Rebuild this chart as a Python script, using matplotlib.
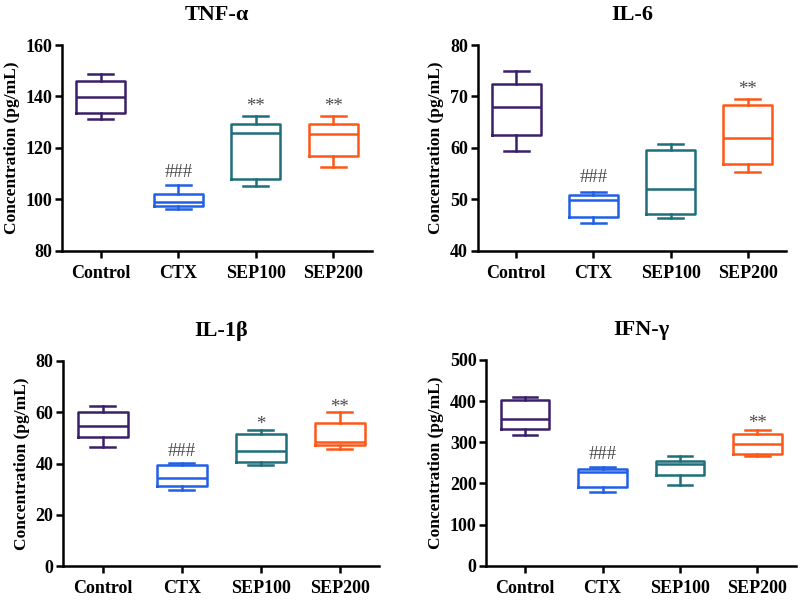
import matplotlib
matplotlib.use("Agg")
import matplotlib.pyplot as plt

plt.rcParams['font.family'] = ['Liberation Serif', 'DejaVu Serif']
plt.rcParams['font.weight'] = 'bold'

groups = ['Control', 'CTX', 'SEP100', 'SEP200']
colors = ['#3a2068', '#2160e6', '#1f6f7a', '#ff5718']

# five-number summaries per group: whislo, q1, med, q3, whishi
tnf_stats = [[131.4, 133.6, 139.9, 145.9, 148.7],
             [96.4, 97.3, 98.8, 102.0, 105.5],
             [105.1, 108.0, 125.8, 129.2, 132.4],
             [112.5, 117.0, 125.4, 129.2, 132.3]]
il6_stats = [[59.4, 62.6, 67.9, 72.5, 74.9],
             [45.5, 46.5, 49.8, 50.9, 51.4],
             [46.3, 47.2, 52.1, 59.6, 60.7],
             [55.3, 56.9, 61.9, 68.3, 69.5]]
il1b_stats = [[46.6, 50.3, 54.5, 60.0, 62.3],
              [29.6, 31.3, 34.4, 39.3, 40.3],
              [39.4, 40.7, 44.9, 51.6, 53.1],
              [45.5, 47.1, 48.4, 55.6, 59.9]]
ifn_stats = [[318.5, 332.3, 357.4, 402.8, 410.0],
             [179.1, 190.4, 228.5, 235.0, 240.7],
             [195.3, 220.4, 246.4, 255.3, 266.6],
             [265.8, 270.7, 295.8, 320.0, 329.0]]

# significance marks (text, y value)
tnf_marks = [None, ('###', 110.5), ('**', 136), ('**', 136)]
il6_marks = [None, ('###', 54.3), None, ('**', 71.3)]
il1b_marks = [None, ('###', 44.6), ('*', 55.3), ('**', 61.8)]
ifn_marks = [None, ('###', 270), None, ('**', 345)]

panels = [
    ('TNF-\u03b1', tnf_stats, tnf_marks, (80, 160), [80, 100, 120, 140, 160], [0.0775, 0.582, 0.3875, 0.343]),
    ('IL-6', il6_stats, il6_marks, (40, 80), [40, 50, 60, 70, 80], [0.597, 0.582, 0.386, 0.343]),
    ('IL-1\u03b2', il1b_stats, il1b_marks, (0, 80), [0, 20, 40, 60, 80], [0.079, 0.056, 0.395, 0.343]),
    ('IFN-\u03b3', ifn_stats, ifn_marks, (0, 500), [0, 100, 200, 300, 400, 500], [0.608, 0.057, 0.387, 0.343]),
]

fig = plt.figure(figsize=(8, 6), dpi=100)

for title, stats, marks, ylim, yticks, pos in panels:
    ax = fig.add_axes(pos)
    for i, s in enumerate(stats):
        st = dict(whislo=s[0], q1=s[1], med=s[2], q3=s[3], whishi=s[4], fliers=[])
        c = colors[i]
        ax.bxp([st], positions=[i], widths=0.63, showfliers=False,
               boxprops=dict(color=c, linewidth=1.8),
               medianprops=dict(color=c, linewidth=1.8),
               whiskerprops=dict(color=c, linewidth=1.8),
               capprops=dict(color=c, linewidth=1.8),
               capwidths=0.32)
        if marks[i] is not None:
            ax.text(i, marks[i][1], marks[i][0], ha='center', va='center',
                    fontsize=13.5, fontweight='normal', color='#4a4a4a')
    ax.set_xlim(-0.5, 3.5)
    ax.set_ylim(*ylim)
    ax.set_yticks(yticks)
    ax.set_xticks(range(4))
    ax.set_xticklabels(groups)
    ax.spines['top'].set_visible(False)
    ax.spines['right'].set_visible(False)
    ax.spines['left'].set_linewidth(1.8)
    ax.spines['bottom'].set_linewidth(1.8)
    ax.tick_params(axis='both', width=1.8, length=5, labelsize=13)
    ax.tick_params(axis='x', pad=5)
    ax.tick_params(axis='y', pad=2)
    for lab in ax.get_xticklabels() + ax.get_yticklabels():
        lab.set_fontweight('bold')
    ax.set_ylabel('Concentration (pg/mL)', fontsize=12.5, fontweight='bold', labelpad=4)
    ax.set_title(title, fontsize=16, fontweight='bold', pad=18)

fig.savefig('out.png', dpi=100)
